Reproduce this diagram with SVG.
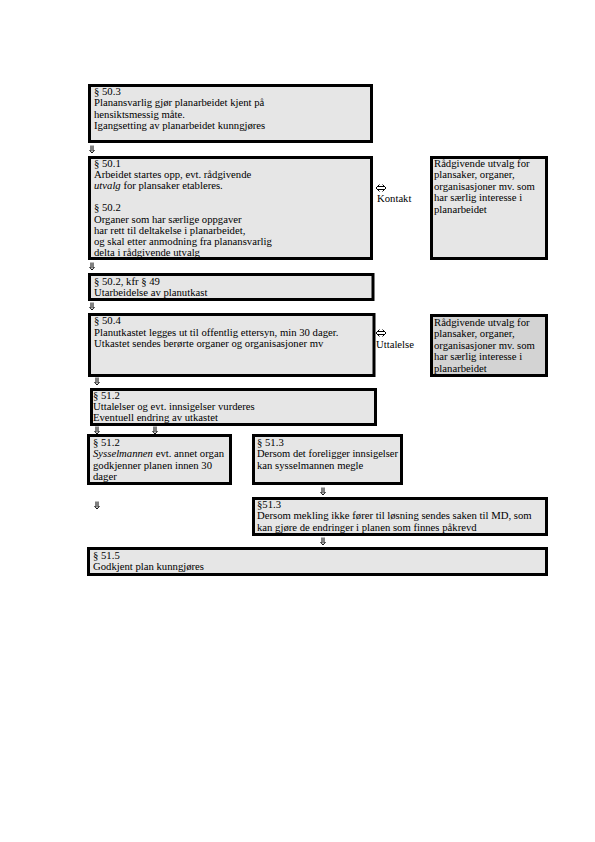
<svg xmlns="http://www.w3.org/2000/svg" width="595" height="842" viewBox="0 0 595 842">
<style>
.bx{fill:#e6e6e6;stroke:#000;stroke-width:3}
.bx2{fill:#d3d3d3;stroke:#000;stroke-width:3}
text{font-family:"Liberation Serif","Times New Roman",serif;font-size:10.7px;fill:#000}
.it{font-style:italic}
.ar{fill:none;stroke:#000;stroke-width:1}
</style>
<defs>
<path id="dn" d="M-1,-3.5V2M1,-3.5V2M-2.5,1L0,4L2.5,1"/>
<path id="lr" d="M-3,-1.5H3M-3,1.5H3M-1.5,-3.5L-5,0L-1.5,3.5M1.5,-3.5L5,0L1.5,3.5"/>
</defs>
<rect width="595" height="842" fill="#fff"/>
<g id="n1"><rect class="bx" x="89.5" y="85.5" width="282" height="56"/>
<text x="94" y="95">§ 50.3</text><text x="94" y="106.3">Planansvarlig gjør planarbeidet kjent på</text><text x="94" y="117.6">hensiktsmessig måte.</text><text x="94" y="128.9">Igangsetting av planarbeidet kunngjøres</text></g>
<g id="n2"><rect class="bx" x="89.5" y="157.5" width="282" height="101"/>
<text x="94" y="166.5">§ 50.1</text><text x="94" y="177.7">Arbeidet startes opp, evt. rådgivende</text><text x="94" y="188.9"><tspan class="it">utvalg</tspan> for plansaker etableres.</text>
<text x="94" y="211.3">§ 50.2</text><text x="94" y="222.5">Organer som har særlige oppgaver</text><text x="94" y="233.7">har rett til deltakelse i planarbeidet,</text><text x="94" y="244.9">og skal etter anmodning fra planansvarlig</text><text x="94" y="256">delta i rådgivende utvalg</text></g>
<g id="n3"><rect class="bx" x="89.5" y="274.5" width="283.5" height="25"/>
<text x="94" y="284.5">§ 50.2, kfr § 49</text><text x="94" y="296">Utarbeidelse av planutkast</text></g>
<g id="n4"><rect class="bx" x="89.5" y="314.5" width="284.5" height="61"/>
<text x="94" y="324">§ 50.4</text><text x="94" y="335.5">Planutkastet legges ut til offentlig ettersyn, min 30 dager.</text><text x="94" y="347">Utkastet sendes berørte organer og organisasjoner mv</text></g>
<g id="n5"><rect class="bx" x="91.5" y="389.5" width="284" height="35"/>
<text x="93" y="399">§ 51.2</text><text x="93" y="410.2">Uttalelser og evt. innsigelser vurderes</text><text x="93" y="421.4">Eventuell endring av utkastet</text></g>
<g id="n6"><rect class="bx" x="88.5" y="435.5" width="142" height="48"/>
<text x="93" y="446">§ 51.2</text><text x="93" y="457.3"><tspan class="it">Sysselmannen</tspan> evt. annet organ</text><text x="93" y="468.6">godkjenner planen innen 30</text><text x="93" y="479.9">dager</text></g>
<g id="n7"><rect class="bx" x="253.5" y="435.5" width="148" height="48"/>
<text x="257" y="446">§ 51.3</text><text x="257" y="457.3" textLength="141" lengthAdjust="spacingAndGlyphs">Dersom det foreligger innsigelser</text><text x="257" y="468.6">kan sysselmannen megle</text></g>
<g id="n8"><rect class="bx" x="253.5" y="498.5" width="293" height="36"/>
<text x="257" y="508">§51.3</text><text x="257" y="519.3">Dersom mekling ikke fører til løsning sendes saken til MD, som</text><text x="257" y="530.6">kan gjøre de endringer i planen som finnes påkrevd</text></g>
<g id="n9"><rect class="bx" x="88.5" y="548.5" width="458" height="26"/>
<text x="93" y="558.5">§ 51.5</text><text x="93" y="570">Godkjent plan kunngjøres</text></g>
<g id="r1"><rect class="bx" x="431.5" y="157.5" width="115" height="101"/>
<text x="434" y="166.5">Rådgivende utvalg for</text><text x="434" y="178">plansaker, organer,</text><text x="434" y="189.5">organisasjoner mv. som</text><text x="434" y="201">har særlig interesse i</text><text x="434" y="212.5">planarbeidet</text></g>
<g id="r2"><rect class="bx2" x="431.5" y="315.5" width="115" height="60"/>
<text x="434" y="325.5">Rådgivende utvalg for</text><text x="434" y="337">plansaker, organer,</text><text x="434" y="348.5">organisasjoner mv. som</text><text x="434" y="360">har særlig interesse i</text><text x="434" y="371.5">planarbeidet</text></g>
<g id="connectors" class="ar">
<use href="#dn" x="92" y="149"/>
<use href="#dn" x="92" y="266"/>
<use href="#dn" x="92" y="306"/>
<use href="#dn" x="97" y="381"/>
<use href="#dn" x="97" y="430"/>
<use href="#dn" x="155" y="430"/>
<use href="#dn" x="323" y="491"/>
<use href="#dn" x="97" y="505"/>
<use href="#dn" x="323" y="541"/>
<use href="#lr" x="381" y="188"/>
<use href="#lr" x="381" y="333"/>
</g>
<g id="labels">
<text x="377" y="201.5">Kontakt</text>
<text x="376" y="347.5">Uttalelse</text>
</g>
</svg>
